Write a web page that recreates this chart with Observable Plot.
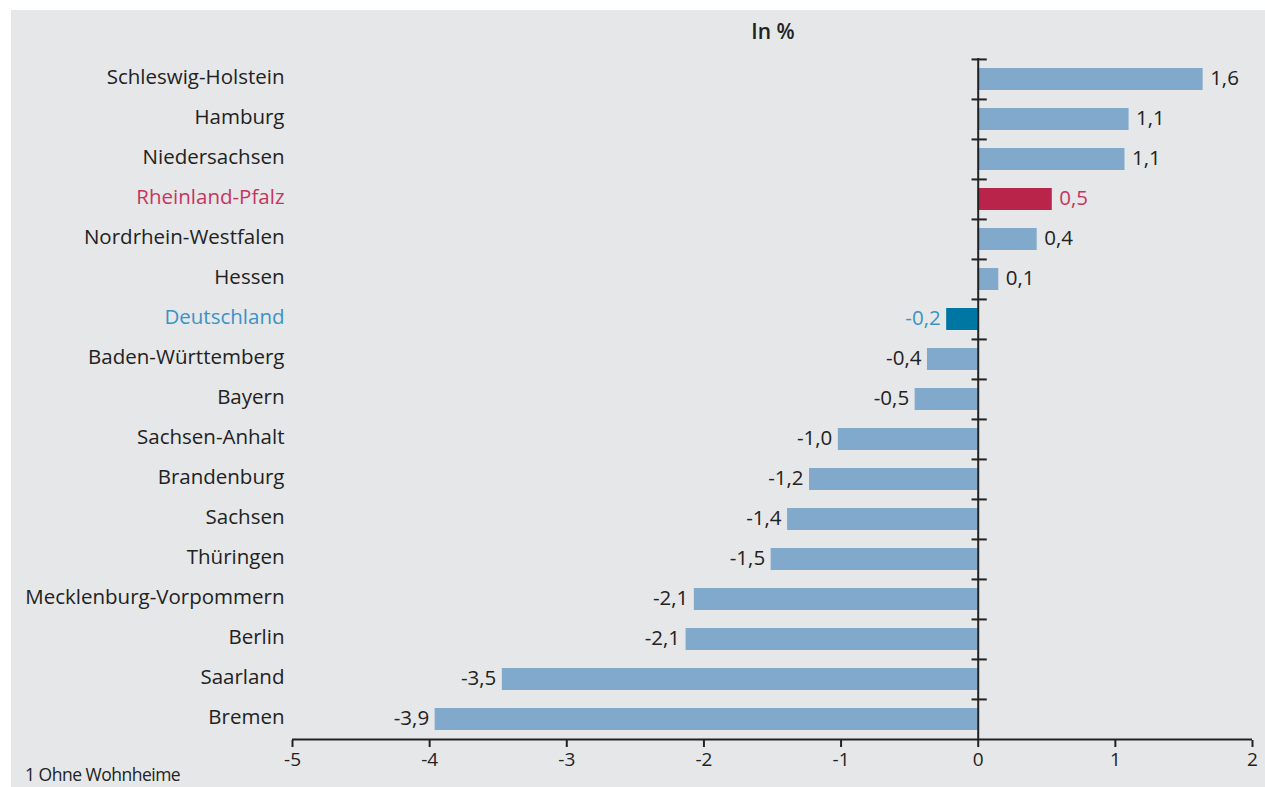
<!DOCTYPE html>
<html>
<head>
<meta charset="utf-8">
<script src="https://cdn.jsdelivr.net/npm/d3@7"></script>
<script src="https://cdn.jsdelivr.net/npm/@observablehq/plot@0.6"></script>
<style>
  html, body { margin: 0; padding: 0; background: #ffffff; }
  #panel { position: absolute; left: 11px; top: 10px; width: 1254px; height: 777px; background: #e6e7e9; }
  #chart { position: absolute; left: 0; top: 0; }
  #title { position: absolute; left: 673px; width: 200px; top: 17px; text-align: center;
           font-family: "Open Sans", sans-serif; font-size: 21px; font-weight: 600; color: #222; }
  #note { position: absolute; left: 25px; top: 762px; font-family: "Open Sans", sans-serif;
          font-size: 17.5px; color: #222; letter-spacing: -0.5px; }
</style>
</head>
<body>
<div id="panel"></div>
<div id="chart"></div>
<div id="title">In %</div>
<div id="note">1 Ohne Wohnheime</div>
<script>
const states = ["Schleswig-Holstein","Hamburg","Niedersachsen","Rheinland-Pfalz","Nordrhein-Westfalen","Hessen","Deutschland","Baden-Württemberg","Bayern","Sachsen-Anhalt","Brandenburg","Sachsen","Thüringen","Mecklenburg-Vorpommern","Berlin","Saarland","Bremen"];
const values = [1.64,1.10,1.07,0.54,0.43,0.15,-0.23,-0.37,-0.46,-1.02,-1.23,-1.39,-1.51,-2.07,-2.13,-3.47,-3.96];
const valueLabels = ["1,6","1,1","1,1","0,5","0,4","0,1","-0,2","-0,4","-0,5","-1,0","-1,2","-1,4","-1,5","-2,1","-2,1","-3,5","-3,9"];
const groups = ["land","land","land","rlp","land","land","de","land","land","land","land","land","land","land","land","land","land"];
const xTicks = [-5,-4,-3,-2,-1,0,1,2];

const barColor = {land: "#80a9cc", rlp: "#b9254a", de: "#0076a5"};
const textColor = {land: "#222222", rlp: "#c5365f", de: "#3a93c4"};

const data = states.map((s, i) => ({state: s, value: values[i], label: valueLabels[i], group: groups[i]}));

const W = 1265, H = 787, mT = 58, mB = 47, mL = 292, mR = 13;
const step = (H - mT - mB) / states.length;
const font = "'Open Sans', sans-serif";
const fs = 20.5;

const chart = Plot.plot({
  width: W, height: H,
  marginTop: mT, marginBottom: mB, marginLeft: mL, marginRight: mR,
  style: {background: "transparent", fontFamily: font, fontSize: fs + "px", color: "#222"},
  x: {domain: [-5, 2], axis: null, label: null},
  y: {domain: states, padding: 0, axis: null, label: null},
  color: {type: "identity"},
  marks: [
    Plot.barX(data, {x: "value", y: "state", fill: d => barColor[d.group], insetTop: 9, insetBottom: 9}),
    Plot.ruleX([0], {stroke: "#222", strokeWidth: 2}),
    Plot.ruleY(states, {y: d => d, x1: -0.045, x2: 0.066, dy: -step / 2, stroke: "#222", strokeWidth: 2}),
    Plot.ruleY([states[states.length - 1]], {y: d => d, x1: -5, x2: 2, dy: step / 2, stroke: "#222", strokeWidth: 2}),
    Plot.axisX(xTicks, {anchor: "bottom", label: null, tickSize: 7, tickPadding: 5, tickFormat: d => String(d), stroke: "#222", strokeWidth: 2, fill: "#222", fontSize: 19}),
    Plot.text(data, {y: "state", text: "state", frameAnchor: "left", textAnchor: "end", dx: -8, dy: -2, fill: d => textColor[d.group], fontSize: fs}),
    Plot.text(data.filter(d => d.value >= 0), {x: "value", y: "state", text: "label", textAnchor: "start", dx: 7, dy: -1, fill: d => textColor[d.group], fontSize: fs}),
    Plot.text(data.filter(d => d.value < 0), {x: "value", y: "state", text: "label", textAnchor: "end", dx: -6, dy: -1, fill: d => textColor[d.group], fontSize: fs})
  ]
});
document.getElementById("chart").appendChild(chart);
</script>
</body>
</html>
